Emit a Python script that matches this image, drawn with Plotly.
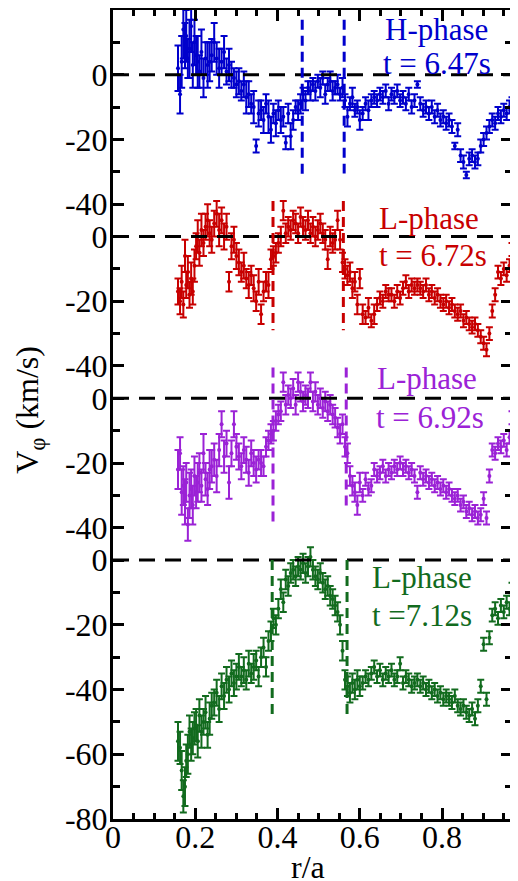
import plotly.graph_objects as go

# radial positions r/a (shared channel grid)
R = [0.158, 0.163, 0.167, 0.171, 0.175, 0.178, 0.182, 0.186, 0.190, 0.194,
     0.198, 0.202, 0.206, 0.210, 0.215, 0.220, 0.225, 0.230, 0.235, 0.240,
     0.246, 0.252, 0.258, 0.264, 0.270, 0.276, 0.282, 0.288, 0.294, 0.300,
     0.306, 0.312, 0.318, 0.324, 0.330, 0.336, 0.342, 0.348, 0.354, 0.360,
     0.366, 0.372, 0.378, 0.384, 0.390, 0.396, 0.402, 0.408, 0.414, 0.420,
     0.426, 0.432, 0.438, 0.444, 0.450, 0.456, 0.462, 0.468, 0.474, 0.480,
     0.486, 0.492, 0.498, 0.504, 0.510, 0.516, 0.522, 0.528, 0.534, 0.540,
     0.546, 0.552, 0.558, 0.564, 0.570, 0.576, 0.582, 0.588, 0.594, 0.600,
     0.607, 0.614, 0.621, 0.628, 0.635, 0.642, 0.649, 0.656, 0.663, 0.670,
     0.677, 0.684, 0.691, 0.698, 0.705, 0.712, 0.719, 0.726, 0.733, 0.740,
     0.747, 0.754, 0.761, 0.768, 0.775, 0.782, 0.789, 0.796, 0.803, 0.810,
     0.817, 0.824, 0.831, 0.838, 0.845, 0.852, 0.859, 0.866, 0.873, 0.880,
     0.887, 0.894, 0.901, 0.908, 0.915, 0.922, 0.929, 0.936, 0.943, 0.950,
     0.957, 0.964, 0.970]

# V_phi (km/s), t = 6.47 s (H-phase)
V_647 = [2, -6, 4, 14, 9, 12, 5, 8, 15, 3,
         10, 6, 4, 1, 7, -1, 5, 3, 4, 6,
         10, 5, 2, 4, 7, 1, 3, 0, -1, -3,
         -2, -5, -3, -7, -6, -9, -10, -22, -12, -11,
         -14, -9, -13, -17, -12, -15, -11, -14, -13, -21,
         -12, -19, -14, -10, -11, -9, -6, -8, -4, -5,
         -3, -5, -2, -4, -1, -6, -3, -2, -5, -4,
         -3, -6, -4, -8, -13, -9, -7, -11, -10, -14,
         -12, -9, -11, -8, -7, -8, -6, -7, -5, -9,
         -6, -7, -5, -8, -7, -9, -6, -10, -8, -3,
         -9, -11, -10, -12, -10, -13, -11, -14, -13, -15,
         -14, -16, -22, -17, -25, -27, -31, -26, -25, -27,
         -26, -22, -20, -18, -16, -14, -15, -12, -13, -11,
         -12, -10, -9]
E_647 = [7, 6, 8, 9, 7, 8, 6, 9, 8, 7,
         7, 6, 8, 5, 7, 6, 5, 7, 6, 5,
         6, 5, 6, 4, 5, 4, 5, 4, 3, 4,
         4, 3, 4, 5, 4, 3, 5, 2, 4, 3,
         4, 3, 5, 4, 3, 4, 3, 4, 3, 2,
         3, 4, 3, 2, 3, 3, 2, 3, 2, 3,
         2, 3, 2, 3, 2, 3, 2, 3, 3, 2,
         3, 2, 3, 2, 3, 2, 3, 2, 2, 3,
         2, 2, 3, 2, 2, 2, 2, 2, 2, 2,
         2, 2, 2, 2, 2, 2, 2, 2, 2, 1,
         2, 2, 2, 2, 2, 2, 2, 2, 2, 2,
         2, 2, 1, 2, 2, 2, 1, 2, 2, 2,
         2, 2, 2, 2, 2, 2, 2, 2, 2, 2,
         2, 2, 2]

# t = 6.72 s (L-phase)
V_672 = [-17, -20, -14, -21, -6, -15, -11, -18, -13, -17,
         -9, -3, 0, -5, 2, -2, 3, 5, 1, -1,
         4, 7, 2, 5, 0, 3, -14, -3, -1, -6,
         -8, -11, -9, -13, -15, -12, -16, -20, -14, -24,
         -17, -14, -15, -7, -6, -5, -2, 0, 8, 1,
         3, 2, 5, 4, 1, 6, 3, 2, 5, 1,
         3, 0, 2, 4, 1, -1, -7, 0, -2, -1,
         5, -1, -8, -10, -12, -11, -16, -14, -21, -13,
         -24, -25, -22, -26, -24, -21, -19, -20, -17, -18,
         -18, -20, -17, -19, -16, -14, -17, -15, -16, -15,
         -16, -17, -15, -18, -17, -19, -18, -20, -21, -20,
         -22, -21, -23, -24, -23, -26, -25, -27, -28, -27,
         -29, -31, -33, -35, -30, -23, -18, -11, -13, -10,
         -12, -9, -4]
E_672 = [4, 4, 5, 4, 5, 4, 5, 4, 5, 4,
         5, 4, 5, 4, 5, 4, 4, 5, 4, 4,
         4, 4, 5, 4, 4, 4, 3, 4, 4, 4,
         4, 3, 4, 3, 4, 3, 4, 3, 4, 3,
         3, 3, 4, 3, 3, 3, 3, 3, 3, 3,
         3, 3, 3, 3, 3, 3, 3, 3, 3, 3,
         3, 3, 3, 3, 3, 3, 3, 3, 3, 3,
         3, 3, 3, 3, 3, 3, 3, 3, 3, 3,
         3, 2, 3, 2, 3, 2, 2, 2, 2, 2,
         2, 2, 2, 2, 2, 2, 2, 2, 2, 2,
         2, 2, 2, 2, 2, 2, 2, 2, 2, 2,
         2, 2, 2, 2, 2, 2, 2, 2, 2, 2,
         2, 2, 2, 2, 2, 2, 2, 2, 2, 2,
         2, 2, 2]

# t = 6.92 s (L-phase)
V_692 = [-22, -17, -29, -27, -32, -26, -39, -30, -28, -33,
         -24, -29, -26, -23, -27, -17, -25, -28, -22, -21,
         -19, -24, -16, -8, -18, -14, -26, -17, -8, -15,
         -18, -21, -16, -19, -23, -17, -20, -22, -19, -20,
         -21, -15, -13, -11, -10, -7, -5, -4, 5, -2,
         1, 0, 3, -2, 5, 2, -1, 1, 0, 5,
         -1, 2, -2, 0, -3, -1, -4, -2, -5, -6,
         -9, -11, -8, -15, -17, -24, -27, -29, -33, -26,
         -30, -25, -28, -27, -22, -24, -23, -21, -24, -22,
         -23, -21, -22, -20, -22, -21, -23, -22, -24, -29,
         -23, -25, -24, -26, -25, -27, -26, -28, -27, -29,
         -28, -30, -31, -30, -33, -32, -35, -34, -36, -35,
         -37, -36, -31, -37, -24, -16, -17, -14, -15, -13,
         -16, -12, -6]
E_692 = [6, 5, 7, 6, 7, 6, 5, 7, 6, 6,
         6, 5, 6, 6, 5, 6, 5, 5, 6, 5,
         5, 5, 5, 4, 5, 4, 5, 4, 4, 4,
         4, 4, 4, 4, 4, 4, 4, 4, 3, 4,
         3, 3, 3, 3, 3, 3, 3, 3, 3, 3,
         3, 3, 3, 3, 3, 3, 3, 3, 3, 3,
         3, 3, 3, 3, 3, 3, 3, 3, 3, 3,
         3, 3, 3, 3, 3, 3, 3, 3, 3, 3,
         2, 2, 2, 2, 2, 2, 2, 2, 2, 2,
         2, 2, 2, 2, 2, 2, 2, 2, 2, 2,
         2, 2, 2, 2, 2, 2, 2, 2, 2, 2,
         2, 2, 2, 2, 2, 2, 2, 2, 2, 2,
         2, 2, 2, 2, 2, 2, 2, 2, 2, 2,
         2, 2, 2]

# t = 7.12 s (L-phase)
V_712 = [-56, -58, -65, -73, -70, -62, -60, -53, -57, -55,
         -52, -51, -56, -48, -53, -50, -47, -54, -49, -45,
         -44, -41, -46, -39, -42, -37, -40, -35, -38, -36,
         -33, -36, -34, -37, -32, -35, -33, -31, -36, -30,
         -27, -33, -25, -22, -18, -20, -15, -9, -13, -6,
         -8, -4, -3, -5, -2, -3, -1, -4, -2, 1,
         -3, -5, -6, -4, -7, -9, -8, -11, -12, -14,
         -16, -20, -28, -37, -39, -41, -38, -40, -37, -39,
         -38, -36, -37, -35, -33, -36, -34, -37, -35, -36,
         -34, -37, -36, -32, -38, -36, -37, -39, -38, -37,
         -39, -38, -40, -39, -41, -40, -42, -41, -43, -42,
         -43, -44, -42, -45, -46, -45, -47, -48, -46, -49,
         -45, -39, -26, -43, -24, -17, -15, -18, -14, -16,
         -13, -15, -9]
E_712 = [6, 5, 6, 5, 6, 5, 6, 5, 5, 5,
         5, 5, 5, 5, 5, 4, 5, 4, 5, 4,
         4, 4, 4, 4, 4, 4, 4, 4, 4, 4,
         4, 3, 4, 3, 4, 3, 4, 3, 3, 3,
         3, 3, 3, 3, 3, 3, 3, 3, 3, 3,
         3, 3, 3, 3, 3, 3, 3, 3, 3, 3,
         3, 3, 3, 3, 3, 3, 3, 3, 3, 3,
         3, 3, 3, 3, 3, 3, 3, 3, 3, 3,
         2, 2, 2, 2, 2, 2, 2, 2, 2, 2,
         2, 2, 2, 2, 2, 2, 2, 2, 2, 2,
         2, 2, 2, 2, 2, 2, 2, 2, 2, 2,
         2, 2, 2, 2, 2, 2, 2, 2, 2, 2,
         2, 2, 2, 2, 2, 2, 2, 2, 2, 2,
         2, 2, 2]

SERIES_V = [V_647, V_672, V_692, V_712]
SERIES_E = [E_647, E_672, E_692, E_712]
COLORS = ["#0000CC", "#C80000", "#9B22D6", "#126B1E"]
PHASES = ["H-phase", "L-phase", "L-phase", "L-phase"]
TIMES = ["t = 6.47s", "t = 6.72s", "t = 6.92s", "t =7.12s"]
# boundary positions (r/a) and vertical extents (km/s) of the dashed markers
BOUND_X = [[0.46, 0.562], [0.389, 0.56], [0.389, 0.567], [0.387, 0.569]]
BOUND_Y = [[[17, -32], [17, -30.5]], [[11, -29], [11, -29]],
           [[9.5, -38.5], [9.5, -35]], [[0, -48.5], [0, -48]]]
Y_TICKS = [[0, -20, -40], [0, -20, -40], [0, -20, -40], [0, -20, -40, -60, -80]]
Y_RANGES = [[-50, 20], [-50, 15], [-50, 15], [-80, 15]]
Y_DOMAINS = [[0.72, 1.0], [0.52, 0.78], [0.32, 0.58], [0.0, 0.38]]

FONT = "Liberation Serif"
YAX = ["y", "y2", "y3", "y4"]

fig = go.Figure()
for i in range(4):
    fig.add_trace(go.Scatter(
        x=R, y=SERIES_V[i], mode="markers", xaxis="x", yaxis=YAX[i],
        marker=dict(color=COLORS[i], size=4),
        error_y=dict(type="data", array=SERIES_E[i], color=COLORS[i],
                     thickness=2, width=3.5),
        showlegend=False, hoverinfo="x+y"))

# carrier trace for the top x axis
fig.add_trace(go.Scatter(x=[0.5], y=[0], xaxis="x2", yaxis="y", mode="markers",
                         marker=dict(opacity=0), showlegend=False, hoverinfo="skip"))

shapes = []
annotations = []
paper_pos = [((0.812, 0.976), (0.812, 0.934)),
             ((0.792, 0.742), (0.802, 0.697)),
             ((0.787, 0.545), (0.794, 0.496)),
             ((0.774, 0.299), (0.774, 0.251))]
for i in range(4):
    yref = YAX[i]
    shapes.append(dict(type="line", xref="x domain", x0=0, x1=1, yref=yref, y0=0, y1=0,
                       line=dict(color="black", width=3, dash="16px,10px"), layer="above"))
    for bx, (y0, y1) in zip(BOUND_X[i], BOUND_Y[i]):
        shapes.append(dict(type="line", xref="x", x0=bx, x1=bx, yref=yref, y0=y0, y1=y1,
                           line=dict(color=COLORS[i], width=3, dash="10px,6px"),
                           layer="above"))
    (px1, py1), (px2, py2) = paper_pos[i]
    annotations.append(dict(text=PHASES[i], xref="paper", yref="paper", x=px1, y=py1,
                            showarrow=False, xanchor="center", yanchor="middle",
                            font=dict(family=FONT, size=31, color=COLORS[i])))
    annotations.append(dict(text=TIMES[i], xref="paper", yref="paper", x=px2, y=py2,
                            showarrow=False, xanchor="center", yanchor="middle",
                            font=dict(family=FONT, size=31, color=COLORS[i])))

annotations.append(dict(text="V<sub>φ</sub> (km/s)", xref="paper", yref="paper",
                        x=-0.208, y=0.506, textangle=-90, showarrow=False,
                        xanchor="center", yanchor="middle",
                        font=dict(family=FONT, size=32, color="black")))
annotations.append(dict(text="r/a", xref="paper", yref="paper", x=0.489, y=-0.0598,
                        showarrow=False, xanchor="center", yanchor="middle",
                        font=dict(family=FONT, size=32, color="black")))

tickfont = dict(family=FONT, size=32, color="black")
xcommon = dict(range=[0, 0.97], showgrid=False, zeroline=False, showline=True,
               linecolor="black", linewidth=3, ticks="inside", ticklen=11,
               tickwidth=3, tickcolor="black", tick0=0, dtick=0.2,
               minor=dict(tick0=0, dtick=0.05, ticks="inside", ticklen=6,
                          tickwidth=3, tickcolor="black", showgrid=False))

# the page body has an 8px margin, so the figure is sized to fit the window
layout = dict(
    width=510, height=873,
    margin=dict(l=105, r=6, t=2, b=62),
    paper_bgcolor="white", plot_bgcolor="rgba(0,0,0,0)",
    shapes=shapes, annotations=annotations,
    xaxis=dict(anchor="y4", domain=[0, 1], tickfont=tickfont,
               ticklabelstandoff=-12, **xcommon),
    xaxis2=dict(anchor="y", overlaying="x", side="top", matches="x",
                showticklabels=False, **xcommon),
)
for i in range(4):
    key = "yaxis" if i == 0 else f"yaxis{i + 1}"
    layout[key] = dict(
        domain=Y_DOMAINS[i], range=Y_RANGES[i], anchor="x",
        showgrid=False, zeroline=False, showline=True, linecolor="black",
        linewidth=3, mirror="ticks", ticks="inside", ticklen=11, tickwidth=3,
        tickcolor="black", tickmode="array", tickvals=Y_TICKS[i],
        ticktext=[str(v) for v in Y_TICKS[i]], tickfont=tickfont,
        ticklabelstandoff=-4,
        minor=dict(tickmode="linear", tick0=0, dtick=10, ticks="inside",
                   ticklen=7, tickwidth=3, tickcolor="black", showgrid=False))

fig.update_layout(**layout)
fig.write_html("out.html")
